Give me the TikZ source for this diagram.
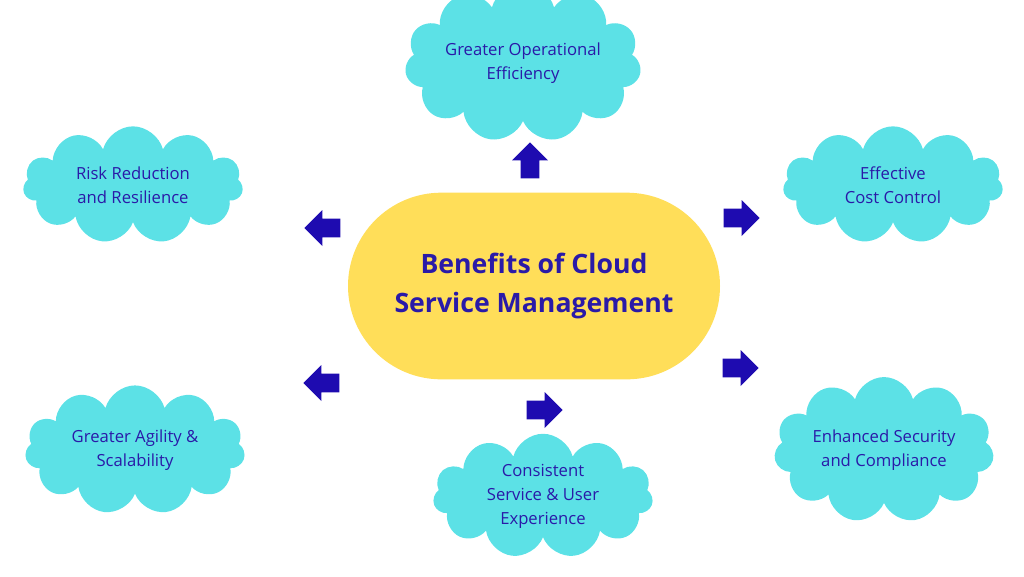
\documentclass[tikz,border=0pt]{standalone}
\usepackage{fontspec}
\setmainfont{Open Sans}
\usetikzlibrary{shapes.symbols, shapes.arrows}
\definecolor{cloudcyan}{HTML}{5CE1E6}
\definecolor{hubyellow}{HTML}{FFDE59}
\definecolor{inkblue}{HTML}{2A1AA8}
\definecolor{arrowblue}{HTML}{1E0BB0}

\begin{document}
\begin{tikzpicture}[x=0.75pt,y=-0.75pt]
	\tikzstyle{benefit}=[cloud, cloud puffs=11, aspect=1.9, fill=cloudcyan, draw=none, minimum width=165pt, minimum height=88pt, inner sep=0pt, align=center, text=inkblue, font=\fontsize{12.5}{18}\selectfont]
	\tikzstyle{pointer}=[single arrow, fill=arrowblue, draw=none, minimum height=27pt, minimum width=27pt, single arrow head extend=3pt, inner sep=3pt]

    \useasboundingbox (0,0) rectangle (1024,576);

    \node [fill=hubyellow, rounded corners=70pt, minimum width=279pt, minimum height=140pt, align=center, text=inkblue, font=\fontsize{20}{29}\selectfont\bfseries] (hub) at (534,286) {Benefits of Cloud\\Service Management};

    \node [benefit] (ops) at (523,63) {Greater Operational\\Efficiency};
    \node [benefit] (risk) at (133,185) {Risk Reduction\\and Resilience};
    \node [benefit] (cost) at (893,185) {Effective\\Cost Control};
    \node [benefit] (agile) at (135,450) {Greater Agility \&\\Scalability};
    \node [benefit] (secure) at (884,450) {Enhanced Security\\and Compliance};
    \node [benefit] (user) at (543,496) {Consistent\\Service \& User\\Experience};

    \node [pointer, shape border rotate=90] (up) at (530,165) {};
    \node [pointer, shape border rotate=135] (upleft) at (327,228) {};
    \node [pointer, shape border rotate=35] (upright) at (737,218) {};
    \node [pointer, shape border rotate=215] (downleft) at (326,383) {};
    \node [pointer, shape border rotate=-40] (downright) at (736,368) {};
    \node [pointer, shape border rotate=-90] (down) at (540,410) {};
\end{tikzpicture}
\end{document}
